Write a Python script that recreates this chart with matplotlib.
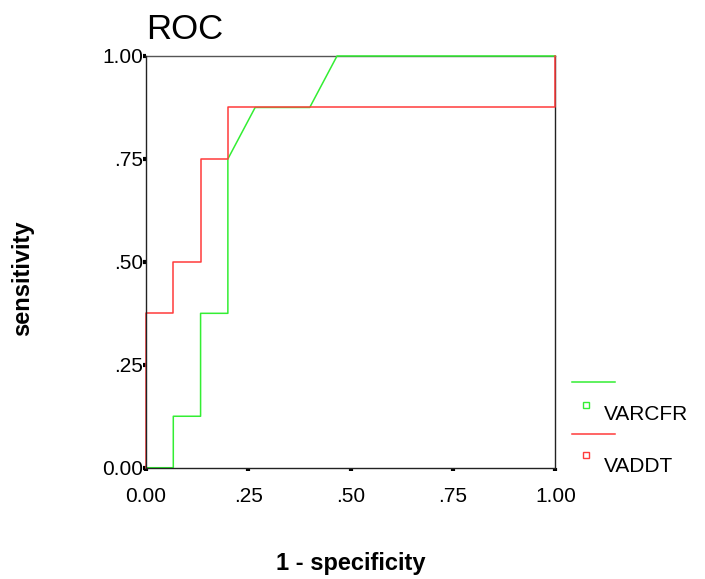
import matplotlib
matplotlib.use("Agg")
import matplotlib.pyplot as plt
from matplotlib.lines import Line2D

# ROC points (1 - specificity, sensitivity)
varcfr_x = [0, 1/15, 1/15, 2/15, 2/15, 3/15, 3/15, 4/15, 6/15, 7/15, 1]
varcfr_y = [0, 0, 1/8, 1/8, 3/8, 3/8, 6/8, 7/8, 7/8, 1, 1]
vaddt_x = [0, 0, 1/15, 1/15, 2/15, 2/15, 3/15, 3/15, 1, 1]
vaddt_y = [0, 3/8, 3/8, 4/8, 4/8, 6/8, 6/8, 7/8, 7/8, 1]
tick_vals = [0, 0.25, 0.5, 0.75, 1.0]
tick_labels = ["0.00", ".25", ".50", ".75", "1.00"]
series_names = ["VARCFR", "VADDT"]
colors = ["#33ee33", "#ff3b3b"]

plt.rcParams['font.family'] = ['Liberation Sans', 'DejaVu Sans']

fig = plt.figure(figsize=(7.05, 5.79), dpi=100)
ax = fig.add_axes([0.2071, 0.1922, 0.5806, 0.7111])

ax.plot(varcfr_x, varcfr_y, color=colors[0], lw=1.1, clip_on=False, zorder=3)
ax.plot(vaddt_x, vaddt_y, color=colors[1], lw=1.1, clip_on=False, zorder=4)

ax.set_xlim(0, 1)
ax.set_ylim(0, 1)
ax.set_xticks(tick_vals)
ax.set_xticklabels(tick_labels)
ax.set_yticks(tick_vals)
ax.set_yticklabels(tick_labels)
ax.tick_params(direction='out', length=2, width=3, labelsize=15, color='black', pad=0)
ax.tick_params(axis='x', pad=12)
for s in ax.spines.values():
    s.set_linewidth(1.0)
    s.set_color('#222222')
ax.spines['top'].set_color('#555555')
# left and bottom axis lines sit over the curves, as in the original
ax.spines['left'].set_zorder(6)
ax.spines['bottom'].set_zorder(6)

ax.set_title("ROC", fontsize=25, loc='left', x=0.0, pad=12)
ax.set_xlabel("1 - specificity", fontsize=17, fontweight='bold')
ax.xaxis.set_label_coords(0.5, -0.205)
ax.set_ylabel("sensitivity", fontsize=17, fontweight='bold')
ax.yaxis.set_label_coords(-0.274, 0.461)

# legend drawn in figure pixel space
def px(x, y):
    return x / 705, 1 - y / 579

legend_rows = [(382, 405, 415), (434, 455, 467)]
for name, col, (ly, my, ty) in zip(series_names, colors, legend_rows):
    x0, y0 = px(572, ly)
    x1, _ = px(615, ly)
    fig.add_artist(Line2D([x0, x1], [y0, y0], color=col, lw=1.1))
    mx, myy = px(586, my)
    fig.add_artist(Line2D([mx], [myy], marker='s', markersize=5, markerfacecolor='none',
                          markeredgecolor=col, markeredgewidth=1.0, linestyle='none'))
    tx, tyy = px(604, ty)
    fig.text(tx, tyy, name, fontsize=15, va='center', ha='left')

fig.savefig("out.png", dpi=100)
